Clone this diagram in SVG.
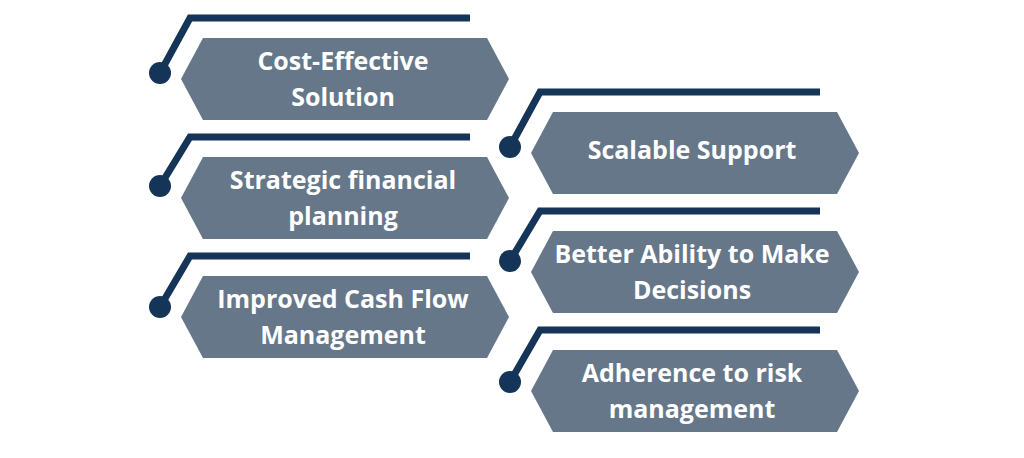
<svg xmlns="http://www.w3.org/2000/svg" width="1024" height="458" viewBox="0 0 1024 458">
<defs>
<style>
.hex{fill:#657789;}
.ln{fill:none;stroke:#143558;stroke-width:7;stroke-linejoin:miter;}
.dot{fill:#143558;}
.t{font-family:"Open Sans","Liberation Sans",sans-serif;font-weight:bold;font-size:25px;fill:#ffffff;text-anchor:middle;}
</style>
<polygon id="hexshape" points="0,41 22,0 306,0 328,41 306,82 22,82"/>
</defs>
<rect width="1024" height="458" fill="#ffffff"/>
<g id="connectors">
<polyline class="ln" points="160,73 190,18 470,18"/>
<polyline class="ln" points="160,186 190,137 470,137"/>
<polyline class="ln" points="160,307 190,256 470,256"/>
<polyline class="ln" points="510,147 540,92 820,92"/>
<polyline class="ln" points="510,261 540,211 820,211"/>
<polyline class="ln" points="510,382 540,330 820,330"/>
<circle class="dot" cx="160" cy="73" r="11"/>
<circle class="dot" cx="160" cy="186" r="11"/>
<circle class="dot" cx="160" cy="307" r="11"/>
<circle class="dot" cx="510" cy="147" r="11"/>
<circle class="dot" cx="510" cy="261" r="11"/>
<circle class="dot" cx="510" cy="382" r="11"/>
</g>
<g id="node-cost">
<use href="#hexshape" class="hex" x="181" y="38"/>
<text class="t" x="343" y="70">Cost-Effective</text>
<text class="t" x="343" y="106">Solution</text>
</g>
<g id="node-strategic">
<use href="#hexshape" class="hex" x="181" y="157"/>
<text class="t" x="343" y="189">Strategic financial</text>
<text class="t" x="343" y="225">planning</text>
</g>
<g id="node-cashflow">
<use href="#hexshape" class="hex" x="181" y="276"/>
<text class="t" x="343" y="308">Improved Cash Flow</text>
<text class="t" x="343" y="344">Management</text>
</g>
<g id="node-scalable">
<use href="#hexshape" class="hex" x="531" y="112"/>
<text class="t" x="692" y="159">Scalable Support</text>
</g>
<g id="node-decisions">
<use href="#hexshape" class="hex" x="531" y="231"/>
<text class="t" x="692" y="263">Better Ability to Make</text>
<text class="t" x="692" y="299">Decisions</text>
</g>
<g id="node-risk">
<use href="#hexshape" class="hex" x="531" y="350"/>
<text class="t" x="692" y="382">Adherence to risk</text>
<text class="t" x="692" y="418">management</text>
</g>
</svg>
